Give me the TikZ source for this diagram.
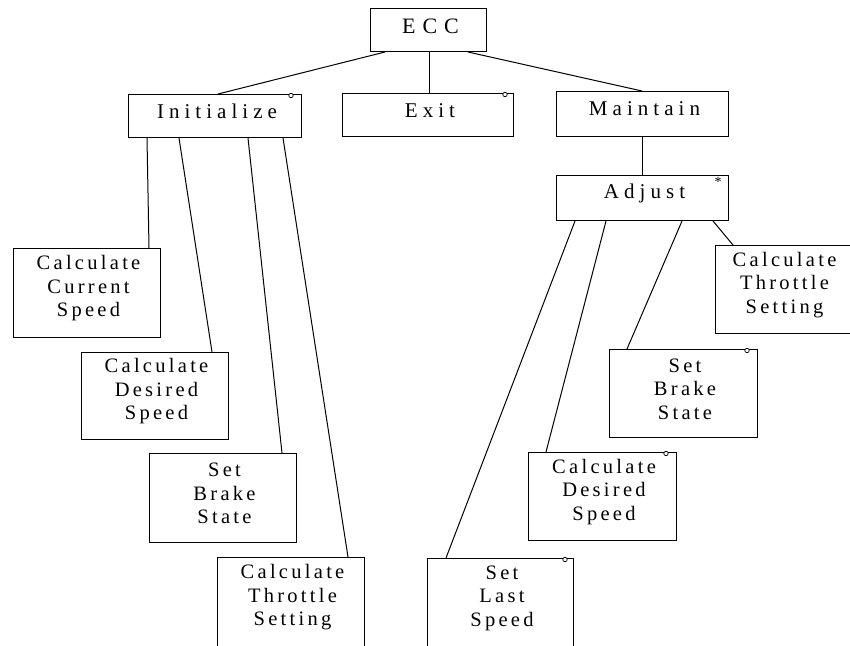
\documentclass[tikz,border=0pt]{standalone}
\usepackage{fontspec}
\setmainfont{Liberation Serif}
\newfontfamily\leaffont[LetterSpace=16]{Liberation Serif}
\newfontfamily\topfont[LetterSpace=24]{Liberation Serif}
\newfontfamily\eccfont[LetterSpace=32]{Liberation Serif}
\tikzset{
  box/.style={draw, line width=1pt, rectangle, anchor=north west, inner sep=0pt},
  toptext/.style={inner sep=0pt, align=center, font=\topfont\fontsize{21}{24}\selectfont},
  leaftext/.style={inner sep=0pt, align=center, font=\leaffont\fontsize{20.5}{23.5}\selectfont},
  link/.style={line width=1pt},
  ring/.style={circle, draw, line width=0.7pt, minimum size=4.4pt, inner sep=0pt, fill=white},
  mark star/.style={inner sep=0pt, font=\fontsize{14}{14}\selectfont}
}
\begin{document}
\begin{tikzpicture}[x=1pt, y=-1pt]
\useasboundingbox (0,0) rectangle (850,645);
\fill[white] (0,0) rectangle (850,645);
\clip (0,0) rectangle (850,645);

% top level boxes
\node[box, minimum width=116pt, minimum height=43pt] (ecc) at (370,8) {};
\node[box, minimum width=173pt, minimum height=43pt] (init) at (128,94) {};
\node[box, minimum width=171pt, minimum height=43pt] (exit) at (342,93) {};
\node[box, minimum width=172pt, minimum height=45pt] (maint) at (556,91) {};
\node[box, minimum width=172pt, minimum height=45pt] (adj) at (556,175) {};

% left leaves
\node[box, minimum width=147pt, minimum height=89pt] (l1) at (13,248) {};
\node[box, minimum width=147pt, minimum height=87pt] (l2) at (81,352) {};
\node[box, minimum width=147pt, minimum height=89pt] (l3) at (149,453) {};
\node[box, minimum width=147pt, minimum height=89pt] (l4) at (217,557) {};

% right leaves
\node[box, minimum width=148pt, minimum height=88pt] (r1) at (715,245) {};
\node[box, minimum width=148pt, minimum height=88pt] (r2) at (609,349) {};
\node[box, minimum width=148pt, minimum height=88pt] (r3) at (528,452) {};
\node[box, minimum width=146pt, minimum height=88pt] (r4) at (427,558) {};

% texts
\node[inner sep=0pt, font=\eccfont\fontsize{22}{24}\selectfont] (ecct) at ([xshift=2pt,yshift=4pt]ecc.center) {ECC};
\node[toptext] (initt) at ([xshift=2pt,yshift=4.5pt]init.center) {Initialize};
\node[toptext] (exitt) at ([xshift=2pt,yshift=4.5pt]exit.center) {Exit};
\node[toptext] (maintt) at ([xshift=2pt,yshift=5pt]maint.center) {Maintain};
\node[toptext] (adjt) at ([xshift=2pt,yshift=5pt]adj.center) {Adjust};

\node[leaftext] (l1t) at ([xshift=1.5pt,yshift=4.5pt]l1.center) {Calculate\\Current\\Speed};
\node[leaftext] (l2t) at ([xshift=1.5pt,yshift=4.5pt]l2.center) {Calculate\\Desired\\Speed};
\node[leaftext] (l3t) at ([xshift=1.5pt,yshift=4.5pt]l3.center) {Set\\Brake\\State};
\node[leaftext] (l4t) at ([xshift=1.5pt,yshift=4.5pt]l4.center) {Calculate\\Throttle\\Setting};
\node[leaftext] (r1t) at ([xshift=-5pt,yshift=4.5pt]r1.center) {Calculate\\Throttle\\Setting};
\node[leaftext] (r2t) at ([xshift=1.5pt,yshift=4.5pt]r2.center) {Set\\Brake\\State};
\node[leaftext] (r3t) at ([xshift=1.5pt,yshift=4.5pt]r3.center) {Calculate\\Desired\\Speed};
\node[leaftext] (r4t) at ([xshift=1.5pt,yshift=4.5pt]r4.center) {Set\\Last\\Speed};

% connectors
\draw[link] ([xshift=15pt]ecc.south west) -- ([xshift=90pt]init.north west);
\draw[link] ([xshift=59pt]ecc.south west) -- ([xshift=87pt]exit.north west);
\draw[link] ([xshift=98pt]ecc.south west) -- ([xshift=86pt]maint.north west);
\draw[link] ([xshift=86pt]maint.south west) -- ([xshift=86pt]adj.north west);

\draw[link] ([xshift=19pt]init.south west) -- ([xshift=136pt]l1.north west);
\draw[link] ([xshift=51pt]init.south west) -- ([xshift=131pt]l2.north west);
\draw[link] ([xshift=120pt]init.south west) -- ([xshift=133pt]l3.north west);
\draw[link] ([xshift=155pt]init.south west) -- ([xshift=131pt]l4.north west);

\draw[link] ([xshift=19pt]adj.south west) -- ([xshift=19pt]r4.north west);
\draw[link] ([xshift=50pt]adj.south west) -- ([xshift=18pt]r3.north west);
\draw[link] ([xshift=126pt]adj.south west) -- ([xshift=18pt]r2.north west);
\draw[link] ([xshift=157pt]adj.south west) -- ([xshift=18pt]r1.north west);

% small markers
\node[ring] (cinit) at ([xshift=-11pt,yshift=-1.5pt]init.north east) {};
\node[ring] (cexit) at ([xshift=-9pt,yshift=-1.5pt]exit.north east) {};
\node[ring] (cr2) at ([xshift=-11pt,yshift=-1.5pt]r2.north east) {};
\node[ring] (cr3) at ([xshift=-11pt,yshift=-1.5pt]r3.north east) {};
\node[ring] (cr4) at ([xshift=-9pt,yshift=-1.5pt]r4.north east) {};
\node[mark star] (sadj) at ([xshift=-11pt,yshift=-7pt]adj.north east) {*};
\end{tikzpicture}
\end{document}
